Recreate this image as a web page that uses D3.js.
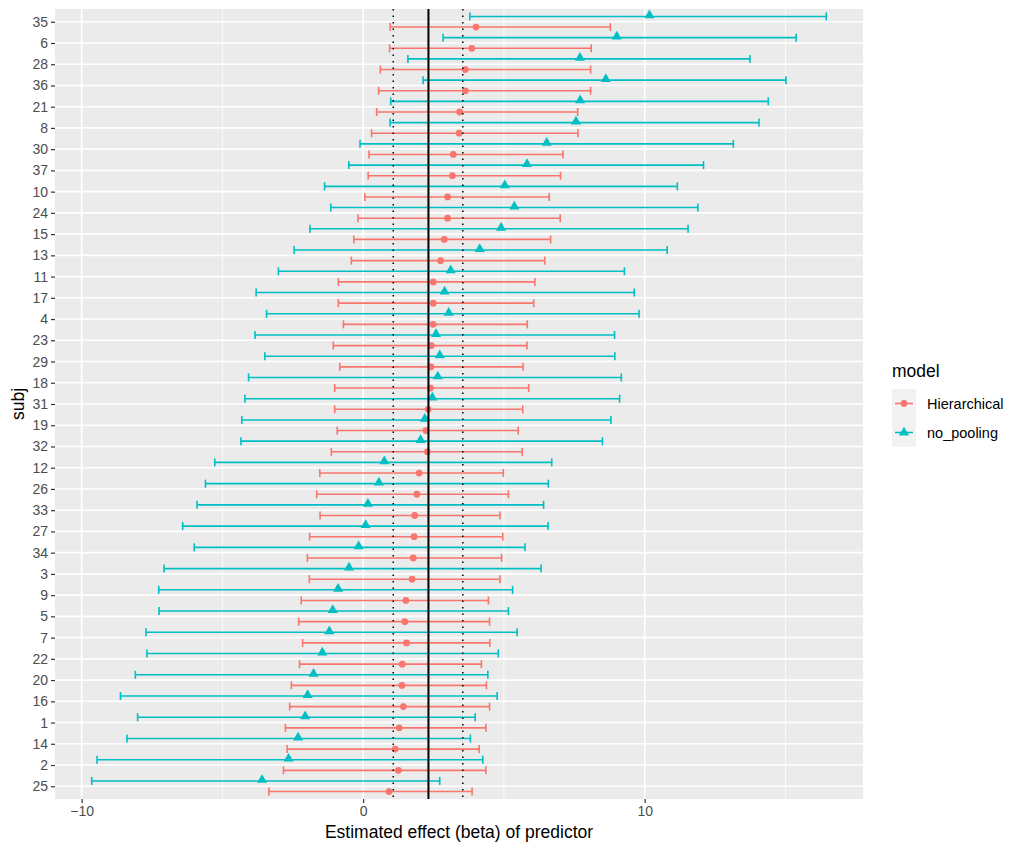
<!DOCTYPE html>
<html>
<head>
<meta charset="utf-8">
<script src="https://cdn.jsdelivr.net/npm/d3@7"></script>
<style>
  body { margin: 0; background: #fff; }
  svg { display: block; font-family: "Liberation Sans", Arial, sans-serif; }
</style>
</head>
<body>
<svg id="chart"></svg>
<script>
// Subjects, top to bottom
const subjects = ['35','6','28','36','21','8','30','37','10','24','15','13','11','17','4','23','29','18','31','19','32','12','26','33','27','34','3','9','5','7','22','20','16','1','14','2','25'];

// Hierarchical model: estimate, lower, upper
const hierEst = [4.01,3.86,3.63,3.63,3.43,3.41,3.20,3.17,3.00,3.00,2.88,2.75,2.49,2.49,2.48,2.42,2.41,2.39,2.31,2.23,2.28,1.99,1.91,1.83,1.81,1.78,1.74,1.52,1.48,1.54,1.39,1.38,1.43,1.28,1.14,1.25,0.92];
const hierLo  = [0.96,0.94,0.61,0.55,0.48,0.30,0.21,0.18,0.06,-0.18,-0.33,-0.42,-0.88,-0.88,-0.70,-1.06,-0.83,-1.01,-1.01,-0.92,-1.13,-1.54,-1.65,-1.53,-1.90,-1.98,-1.91,-2.20,-2.29,-2.15,-2.26,-2.55,-2.61,-2.76,-2.70,-2.83,-3.35];
const hierHi  = [8.78,8.10,8.08,8.08,7.62,7.63,7.10,7.01,6.61,7.00,6.66,6.45,6.10,6.06,5.83,5.82,5.68,5.88,5.67,5.51,5.65,4.98,5.16,4.86,4.96,4.92,4.86,4.45,4.49,4.50,4.20,4.38,4.49,4.36,4.12,4.36,3.87];

// No pooling model: estimate, lower, upper
const npEst = [10.17,9.01,7.70,8.62,7.71,7.56,6.52,5.82,5.03,5.37,4.90,4.14,3.11,2.89,3.04,2.59,2.72,2.65,2.46,2.19,2.04,0.75,0.56,0.17,0.09,-0.16,-0.50,-0.89,-1.08,-1.20,-1.45,-1.76,-1.97,-2.06,-2.31,-2.65,-3.59];
const npLo  = [3.79,2.84,1.59,2.13,0.98,0.96,-0.11,-0.51,-1.37,-1.15,-1.89,-2.45,-3.01,-3.80,-3.43,-3.84,-3.49,-4.07,-4.20,-4.31,-4.34,-5.27,-5.60,-5.90,-6.41,-6.00,-7.07,-7.26,-7.25,-7.71,-7.68,-8.09,-8.62,-8.01,-8.39,-9.45,-9.64];
const npHi  = [16.45,15.38,13.74,15.02,14.39,14.06,13.15,12.09,11.16,11.89,11.54,10.80,9.28,9.63,9.80,8.93,8.94,9.17,9.11,8.80,8.50,6.70,6.58,6.41,6.57,5.75,6.32,5.31,5.16,5.47,4.80,4.43,4.76,3.98,3.81,4.25,2.72];

const models = ['Hierarchical', 'no_pooling'];
const meanLine = 2.32;
const dottedLines = [1.07, 3.54];
const xTicks = [-10, 0, 10];
const xMinor = [-5, 5, 15];

const width = 1024, height = 852;
const panel = { left: 55, right: 863, top: 9, bottom: 799 };
const color = d3.scaleOrdinal().domain(models).range(['#F8766D', '#00BFC4']);

const rows = [];
subjects.forEach((s, i) => {
  rows.push({ subj: s, model: 'Hierarchical', est: hierEst[i], lo: hierLo[i], hi: hierHi[i] });
  rows.push({ subj: s, model: 'no_pooling', est: npEst[i], lo: npLo[i], hi: npHi[i] });
});

const svg = d3.select('#chart').attr('width', width).attr('height', height);
svg.append('rect').attr('width', width).attr('height', height).attr('fill', '#fff');

// scales with ggplot style expansion
const lo = d3.min(rows, d => d.lo), hi = d3.max(rows, d => d.hi);
const pad = (hi - lo) * 0.05;
const x = d3.scaleLinear().domain([lo - pad, hi + pad]).range([panel.left, panel.right]);
const y = d3.scalePoint().domain(subjects).range([panel.top, panel.bottom]).padding(0.6);
const dodge = y.step() * 0.25;
const yOf = d => y(d.subj) + (d.model === 'no_pooling' ? -dodge : dodge);

// panel background + grid
svg.append('rect')
  .attr('x', panel.left).attr('y', panel.top)
  .attr('width', panel.right - panel.left).attr('height', panel.bottom - panel.top)
  .attr('fill', '#EBEBEB');

const grid = svg.append('g');
grid.selectAll('.minor').data(xMinor).enter().append('line')
  .attr('x1', d => x(d)).attr('x2', d => x(d))
  .attr('y1', panel.top).attr('y2', panel.bottom)
  .attr('stroke', '#fff').attr('stroke-width', 0.8);
grid.selectAll('.major').data(xTicks).enter().append('line')
  .attr('x1', d => x(d)).attr('x2', d => x(d))
  .attr('y1', panel.top).attr('y2', panel.bottom)
  .attr('stroke', '#fff').attr('stroke-width', 1.6);
grid.selectAll('.hmajor').data(subjects).enter().append('line')
  .attr('x1', panel.left).attr('x2', panel.right)
  .attr('y1', d => y(d)).attr('y2', d => y(d))
  .attr('stroke', '#fff').attr('stroke-width', 1.6);

// error bars
const bars = svg.append('g').selectAll('g').data(rows).enter().append('g')
  .attr('stroke', d => color(d.model)).attr('stroke-width', 1.6);
bars.append('line')
  .attr('x1', d => x(d.lo)).attr('x2', d => x(d.hi))
  .attr('y1', yOf).attr('y2', yOf);
bars.append('line')
  .attr('x1', d => x(d.lo)).attr('x2', d => x(d.lo))
  .attr('y1', d => yOf(d) - 4).attr('y2', d => yOf(d) + 4);
bars.append('line')
  .attr('x1', d => x(d.hi)).attr('x2', d => x(d.hi))
  .attr('y1', d => yOf(d) - 4).attr('y2', d => yOf(d) + 4);

// points
const tri = d3.symbol().type(d3.symbolTriangle).size(44);
const circ = d3.symbol().type(d3.symbolCircle).size(36);
svg.append('g').selectAll('path').data(rows).enter().append('path')
  .attr('d', d => d.model === 'no_pooling' ? tri() : circ())
  .attr('transform', d => `translate(${x(d.est)},${yOf(d) - (d.model === 'no_pooling' ? 1 : 0)})`)
  .attr('fill', d => color(d.model));

// reference lines
svg.append('line')
  .attr('x1', x(meanLine)).attr('x2', x(meanLine))
  .attr('y1', panel.top).attr('y2', panel.bottom)
  .attr('stroke', '#000').attr('stroke-width', 2);
svg.selectAll('.dot').data(dottedLines).enter().append('line')
  .attr('x1', d => x(d)).attr('x2', d => x(d))
  .attr('y1', panel.top).attr('y2', panel.bottom)
  .attr('stroke', '#000').attr('stroke-width', 1.5)
  .attr('stroke-dasharray', '1.5,5');

// axes
const xAxis = svg.append('g')
  .attr('transform', `translate(0,${panel.bottom})`)
  .call(d3.axisBottom(x).tickValues(xTicks).tickSize(4).tickPadding(3));
const yAxis = svg.append('g')
  .attr('transform', `translate(${panel.left},0)`)
  .call(d3.axisLeft(y).tickSize(4).tickPadding(3));
[xAxis, yAxis].forEach(a => {
  a.select('.domain').remove();
  a.selectAll('.tick line').attr('stroke', '#333').attr('stroke-width', 1.2);
  a.selectAll('.tick text').attr('fill', '#4D4D4D').style('font-size', '14px');
});

svg.append('text')
  .attr('x', (panel.left + panel.right) / 2).attr('y', 838)
  .attr('text-anchor', 'middle').style('font-size', '17.5px').attr('fill', '#000')
  .text('Estimated effect (beta) of predictor');
svg.append('text')
  .attr('transform', `translate(24,${(panel.top + panel.bottom) / 2}) rotate(-90)`)
  .attr('text-anchor', 'middle').style('font-size', '17.5px').attr('fill', '#000')
  .text('subj');

// legend
const legend = svg.append('g').attr('transform', 'translate(892,389)');
legend.append('text').attr('x', 0).attr('y', -12).style('font-size', '17.5px').text('model');
const key = legend.selectAll('.key').data(models).enter().append('g')
  .attr('transform', (d, i) => `translate(0,${i * 29})`);
key.append('rect').attr('width', 24).attr('height', 29).attr('fill', '#F2F2F2');
key.append('line').attr('x1', 3).attr('x2', 21).attr('y1', 14.5).attr('y2', 14.5)
  .attr('stroke', color).attr('stroke-width', 1.6);
key.append('path')
  .attr('d', d => d === 'no_pooling' ? tri() : circ())
  .attr('transform', 'translate(12,14.5)').attr('fill', color);
key.append('text').attr('x', 35).attr('y', 14.5).attr('dy', '0.35em')
  .style('font-size', '14.5px').attr('fill', '#000').text(d => d);
</script>
</body>
</html>
